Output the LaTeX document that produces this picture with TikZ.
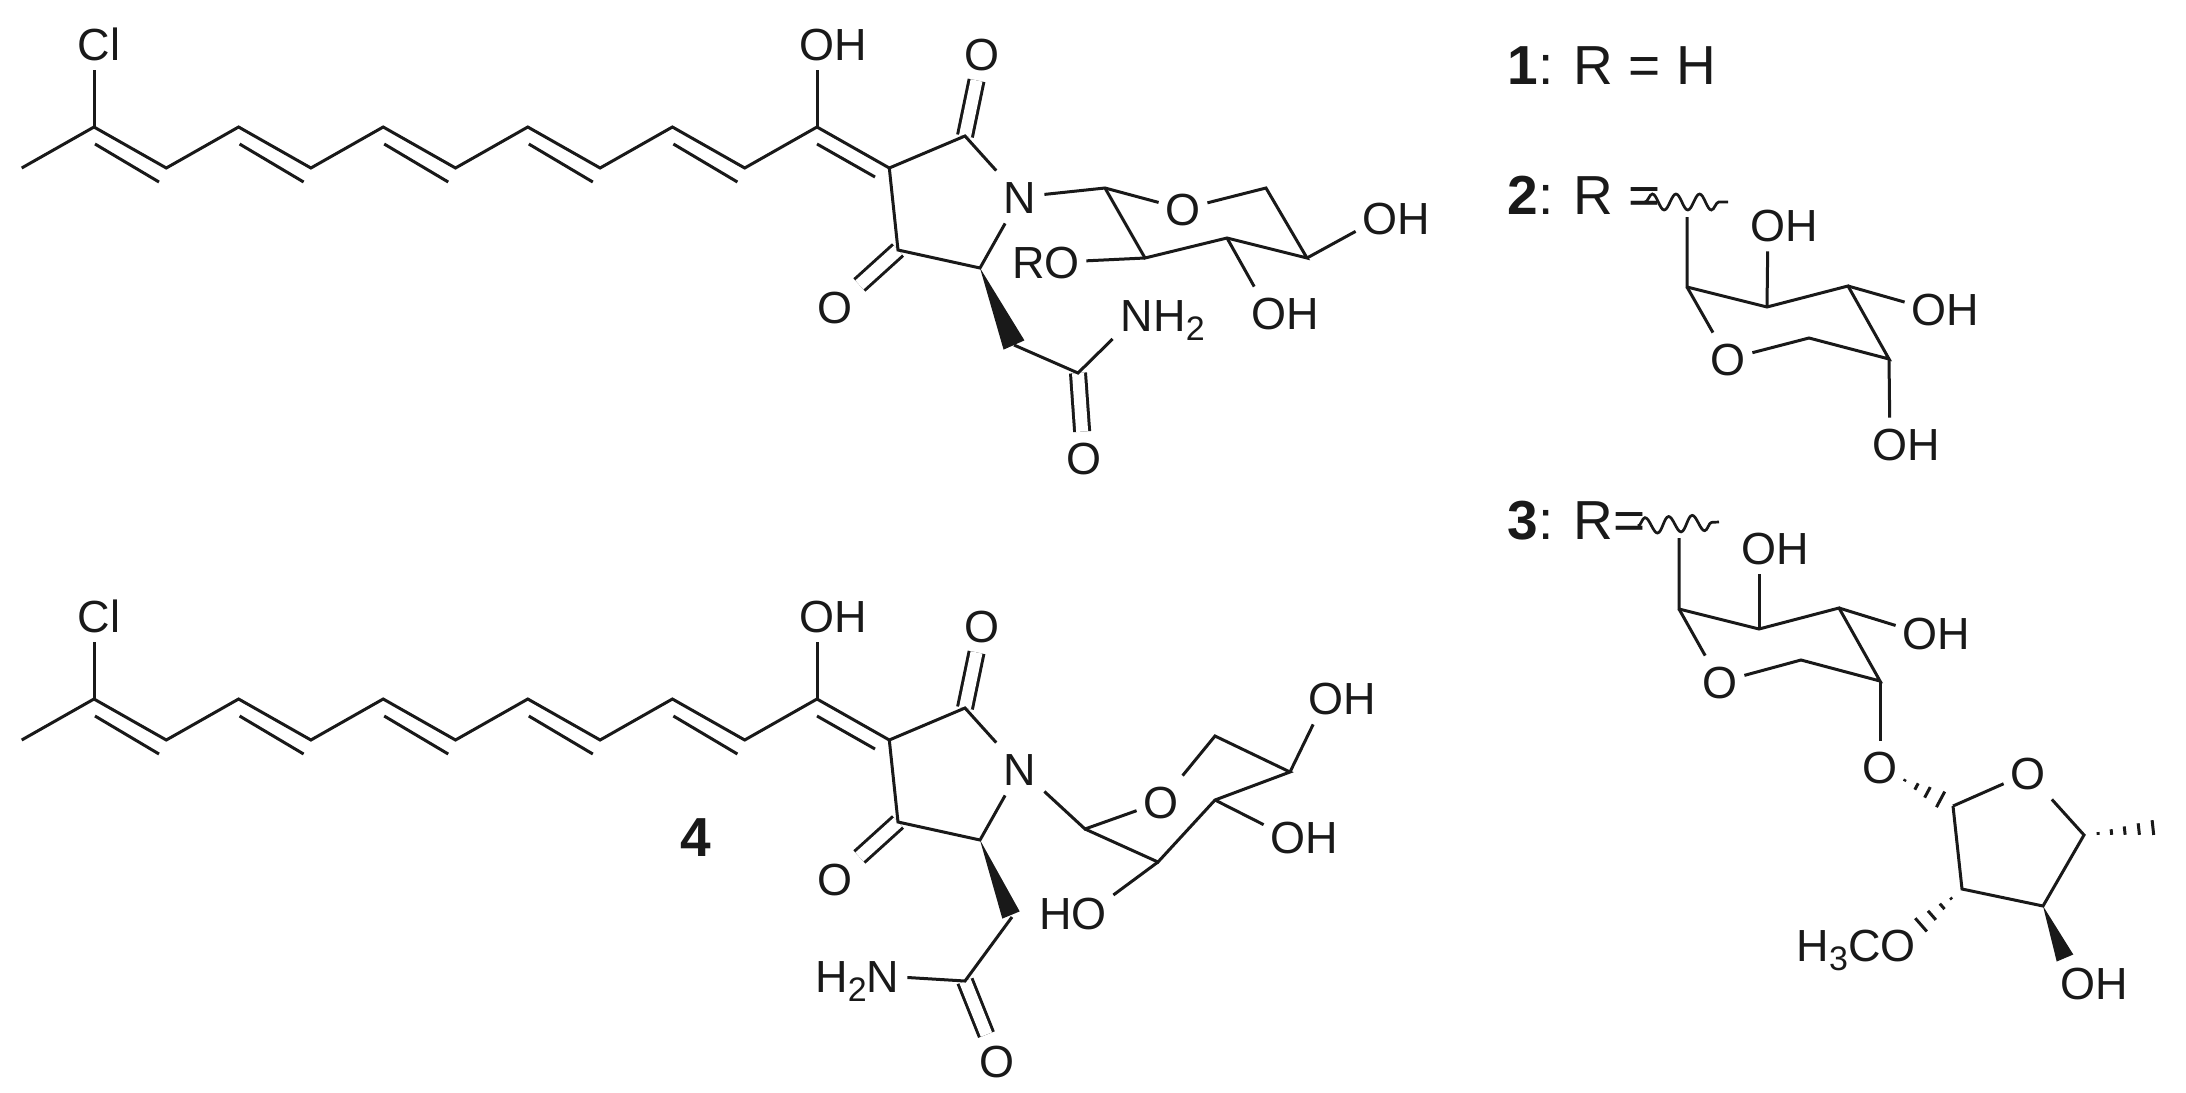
\documentclass[tikz,border=0pt]{standalone}
\usepackage{fontspec}
\setmainfont{Liberation Sans}
\usetikzlibrary{calc, decorations.pathmorphing}

\newcommand{\lowidx}[1]{\raisebox{-4.5pt}{\fontsize{17}{17}\selectfont #1}}
% hatched bond: #1 start, #2 end, #3 list of position/half width
\newcommand{\hashbond}[3]{%
  \foreach \t/\w in {#3} {
    \coordinate (hp) at ($(#1)!\t!(#2)$);
    \draw [hash] ($(hp)!\w!90:(#2)$) -- ($(hp)!\w!-90:(#2)$);
  }}
% solid wedge: #1 tip, #2 middle of wide end, #3 half width
\newcommand{\wedgebond}[3]{%
  \fill [ink] (#1) -- ($(#2)!#3!90:(#1)$) -- ($(#2)!#3!-90:(#1)$) -- cycle;}

\tikzset{
  ink/.style={black!90},
  bond/.style={ink, line width=1.5pt, line join=miter},
  dbond/.style={ink, line width=1.5pt, double=white, double distance=6pt},
  hash/.style={ink, line width=1.5pt},
  wavy/.style={ink, line width=1.35pt, decorate, decoration={snake, amplitude=4pt, segment length=11.8pt}},
  atom/.style={ink, font=\fontsize{22.5}{22.5}\selectfont, inner sep=0pt, minimum width=24pt, minimum height=26pt, text height=16pt, text depth=0pt},
  caption/.style={ink, font=\fontsize{27.5}{27.5}\selectfont, inner sep=0pt, anchor=base west},
}

\begin{document}
\begin{tikzpicture}[x=0.5pt, y=-0.5pt]
  \useasboundingbox (0,0) rectangle (2186,1093);

  % the part that both long molecules share
  \foreach \k/\dy in {a/0, b/572} {
    \begin{scope}[shift={(0,\dy)}]
      \foreach \i in {0,...,12} {
        \pgfmathsetmacro{\yy}{isodd(\i) ? 127 : 168}
        \coordinate (\k\i) at ({21.7+72.3*\i}, \yy);
      }
      \coordinate (\k-co) at (965,136);
      \coordinate (\k-cn) at (980,268);
      \coordinate (\k-ck) at (898,250);
      \node [atom] (\k-Cl) at (94,44) {C\rlap{l}};
      \node [atom] (\k-OH) at (817,44) {O\rlap{H}};
      \node [atom] (\k-N) at (1020,197) {N};
      \node [atom] (\k-Oa) at (982,54) {O};
      \node [atom] (\k-Ob) at (835,307) {O};

      \draw [dbond] (\k-co) -- (\k-Oa);
      \draw [dbond] (\k-ck) -- (\k-Ob);
      \draw [bond] (\k0) \foreach \i in {1,...,12} { -- (\k\i) };
      \foreach \i in {1,3,...,9}
        \draw [bond] ($(\k\i)+(1,17)$) -- ($(\k\i)+(65,55)$);
      \draw [bond] ($(\k11)+(0,17)$) -- ($(\k11)+(58,50)$);
      \draw [bond] (\k1) -- (\k-Cl);
      \draw [bond] (\k11) -- (\k-OH);
      \draw [bond] (\k12) -- (\k-co) -- (\k-N);
      \draw [bond] (\k-N) -- (\k-cn) -- (\k-ck) -- (\k12);
    \end{scope}
  }

  % top: amide side chain and sugar
  \coordinate (ch) at (1014,345);
  \coordinate (ca) at (1078,373);
  \node [atom] (nh) at (1137,315) {N\rlap{H\lowidx{2}}};
  \node [atom] (oc) at (1084,458) {O};
  \wedgebond{a-cn}{ch}{5.7pt}
  \draw [dbond] (ca) -- (oc);
  \draw [bond] (ch) -- (ca) -- (nh);

  \coordinate (s1) at (1105,188);
  \coordinate (s2) at (1266,188);
  \coordinate (s3) at (1307,258);
  \coordinate (s4) at (1227,238);
  \coordinate (s5) at (1145,258);
  \node [atom] (so) at (1183,209) {O};
  \node [atom] (ro) at (1062,262) {\llap{R}O};
  \node [atom] (sa) at (1380,218) {O\rlap{H}};
  \node [atom] (sb) at (1269,313) {O\rlap{H}};
  \draw [bond] (a-N) -- (s1) -- (so);
  \draw [bond] (so) -- (s2) -- (s3) -- (s4) -- (s5) -- (s1);
  \draw [bond] (s5) -- (ro);
  \draw [bond] (s3) -- (sa);
  \draw [bond] (s4) -- (sb);

  % bottom: amide side chain and sugar
  \coordinate (dh) at (1012,917);
  \coordinate (da) at (965,981);
  \node [atom] (hn) at (883,976) {\llap{H\lowidx{2}}N};
  \node [atom] (od) at (997,1061) {O};
  \wedgebond{b-cn}{1011,915}{4.7pt}
  \draw [dbond] (da) -- (od);
  \draw [bond] (dh) -- (da) -- (hn);

  \coordinate (t1) at (1085,829);
  \coordinate (t2) at (1215,736);
  \coordinate (t3) at (1290,772);
  \coordinate (t4) at (1215,800);
  \coordinate (t5) at (1158,862);
  \node [atom] (to) at (1161,802) {O};
  \node [atom] (ta) at (1326,698) {O\rlap{H}};
  \node [atom] (tb) at (1288,837) {O\rlap{H}};
  \node [atom] (tc) at (1089,913) {\llap{H}O};
  \draw [bond] (b-N) -- (t1) -- (to);
  \draw [bond] (to) -- (t2) -- (t3) -- (t4) -- (t5) -- (t1);
  \draw [bond] (t3) -- (ta);
  \draw [bond] (t4) -- (tb);
  \draw [bond] (t5) -- (tc);
  \node [caption, anchor=base] (lab4) at (696,856) {\textbf{4}};

  % R groups
  \node [caption] (lab1) at (1507,84) {\textbf{1}: R = H};
  \node [caption] (lab2) at (1507,214) {\textbf{2}: R =};
  \node [caption] (lab3) at (1507,539) {\textbf{3}: R=};

  \coordinate (wl2) at (1645,202);
  \coordinate (wr2) at (1728,202);
  \draw [wavy] (wl2) -- (wr2);
  \coordinate (u0) at (1687,217);
  \coordinate (u1) at (1687,287);
  \coordinate (u2) at (1767,307);
  \coordinate (u3) at (1848,286);
  \coordinate (u4) at (1889,359);
  \coordinate (u5) at (1809,338);
  \node [atom] (uo) at (1728,359) {O};
  \node [atom] (ua) at (1768,225) {O\rlap{H}};
  \node [atom] (ub) at (1929,309) {O\rlap{H}};
  \node [atom] (uc) at (1890,444) {O\rlap{H}};
  \draw [bond] (u0) -- (u1) -- (u2) -- (u3) -- (u4) -- (u5) -- (uo);
  \draw [bond] (u1) -- (uo);
  \draw [bond] (u2) -- (ua);
  \draw [bond] (u3) -- (ub);
  \draw [bond] (u4) -- (uc);

  \coordinate (wl3) at (1638,526);
  \coordinate (wr3) at (1719,522);
  \draw [wavy] (wl3) -- (wr3);
  \coordinate (v0) at (1679,538);
  \coordinate (v1) at (1679,609);
  \coordinate (v2) at (1759,629);
  \coordinate (v3) at (1839,608);
  \coordinate (v4) at (1880,681);
  \coordinate (v5) at (1801,660);
  \node [atom] (vo) at (1720,682) {O};
  \node [atom] (va) at (1759,548) {O\rlap{H}};
  \node [atom] (vb) at (1920,633) {O\rlap{H}};
  \node [atom] (vc) at (1880,767) {O};
  \draw [bond] (v0) -- (v1) -- (v2) -- (v3) -- (v4) -- (v5) -- (vo);
  \draw [bond] (v1) -- (vo);
  \draw [bond] (v2) -- (va);
  \draw [bond] (v3) -- (vb);
  \draw [bond] (v4) -- (vc);

  \coordinate (f1) at (1953,806);
  \coordinate (f2) at (1962,889);
  \coordinate (f3) at (2043,906);
  \coordinate (f4) at (2084,835);
  \coordinate (fm) at (2167,826);
  \coordinate (fw) at (2065,958);
  \node [atom] (fo) at (2028,773) {O};
  \node [atom] (fa) at (1898,945) {\llap{H\lowidx{3}C}O};
  \node [atom] (fb) at (2078,983) {O\rlap{H}};
  \draw [bond] (f1) -- (fo) -- (f4) -- (f3) -- (f2) -- (f1);
  \wedgebond{f3}{fw}{4.5pt}
  \hashbond{f1}{vc}{0.17/4.4pt, 0.35/3pt, 0.5/1.8pt, 0.66/0.6pt}
  \hashbond{f2}{fa}{0.17/0.6pt, 0.31/1.8pt, 0.47/3pt, 0.64/4.4pt}
  \hashbond{f4}{fm}{0.17/0.7pt, 0.33/1.4pt, 0.49/2.1pt, 0.66/2.9pt, 0.83/3.7pt, 1/4.5pt}
\end{tikzpicture}
\end{document}
